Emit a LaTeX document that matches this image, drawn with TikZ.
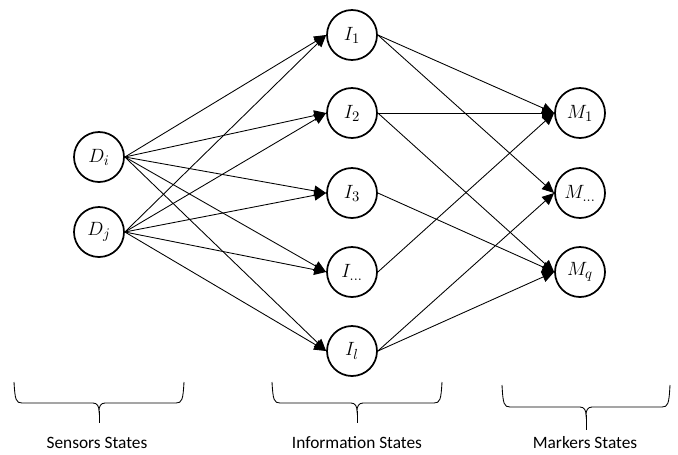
\documentclass[tikz,border=0pt]{standalone}
\usepackage{fontspec}
\setmainfont{Carlito}
\usetikzlibrary{arrows.meta}

% curly brace spanning [#1,#2], top at #3, bar at #4, tip at #5
\newcommand{\statebrace}[5]{%
  \pgfmathsetmacro{\bc}{(#1+#2)/2}%
  \draw[bracestyle] (#1,#3) .. controls (#1+1,#4-3) and (#1+2,#4) .. (#1+8,#4)
    -- (\bc-6,#4) .. controls (\bc-2,#4) and (\bc,#4+3) .. (\bc,#4+8)
    .. controls (\bc,#4+3) and (\bc+2,#4) .. (\bc+6,#4)
    -- (#2-8,#4) .. controls (#2-2,#4) and (#2-1,#4-3) .. (#2,#3);
  \draw[bracestyle] (\bc,#4+8) -- (\bc,#5);
}

\begin{document}
\begin{tikzpicture}[x=0.75pt,y=-0.75pt,
  state/.style={circle,draw,line width=1.3pt,minimum size=37.5pt,inner sep=0pt,
    font=\fontsize{15}{17}\selectfont},
  edge/.style={line width=0.65pt,-{Triangle[length=9pt,width=8pt]}},
  bracestyle/.style={line width=0.65pt},
  caption/.style={font=\fontsize{13}{15}\selectfont}]
\useasboundingbox (0,0) rectangle (678,454);

% sensor states
\node[state] (Di) at (99,157) {$D_i$};
\node[state] (Dj) at (99,232) {$D_j$};

% information states
\node[state] (I1) at (352,35)  {$I_1$};
\node[state] (I2) at (352,113) {$I_2$};
\node[state] (I3) at (352,193) {$I_3$};
\node[state] (Id) at (352,272) {$I_{\ldots}$};
\node[state] (Il) at (352,351) {$I_l$};

% marker states
\node[state] (M1) at (580,113) {$M_1$};
\node[state] (Md) at (580,193) {$M_{\ldots}$};
\node[state] (Mq) at (580,272) {$M_q$};

% sensors -> information
\foreach \d in {Di,Dj}
  \foreach \i in {I1,I2,I3,Id,Il}
    \draw[edge] (\d.east) -- (\i.west);

% information -> markers
\draw[edge] (I1.east) -- (M1.west);
\draw[edge] (I1.east) -- (Md.west);
\draw[edge] (I2.east) -- (M1.west);
\draw[edge] (I2.east) -- (Mq.west);
\draw[edge] (I3.east) -- (Mq.west);
\draw[edge] (Id.east) -- (M1.west);
\draw[edge] (Il.east) -- (Md.west);
\draw[edge] (Il.east) -- (Mq.west);

% group braces and captions
\statebrace{14}{184}{382}{403}{423}
\statebrace{272}{442}{382}{403}{423}
\statebrace{502}{670}{385}{407}{430}

\node[caption] (capS) at (97,443)  {Sensors States};
\node[caption] (capI) at (357,443) {Information States};
\node[caption] (capM) at (585,443) {Markers States};
\end{tikzpicture}
\end{document}
